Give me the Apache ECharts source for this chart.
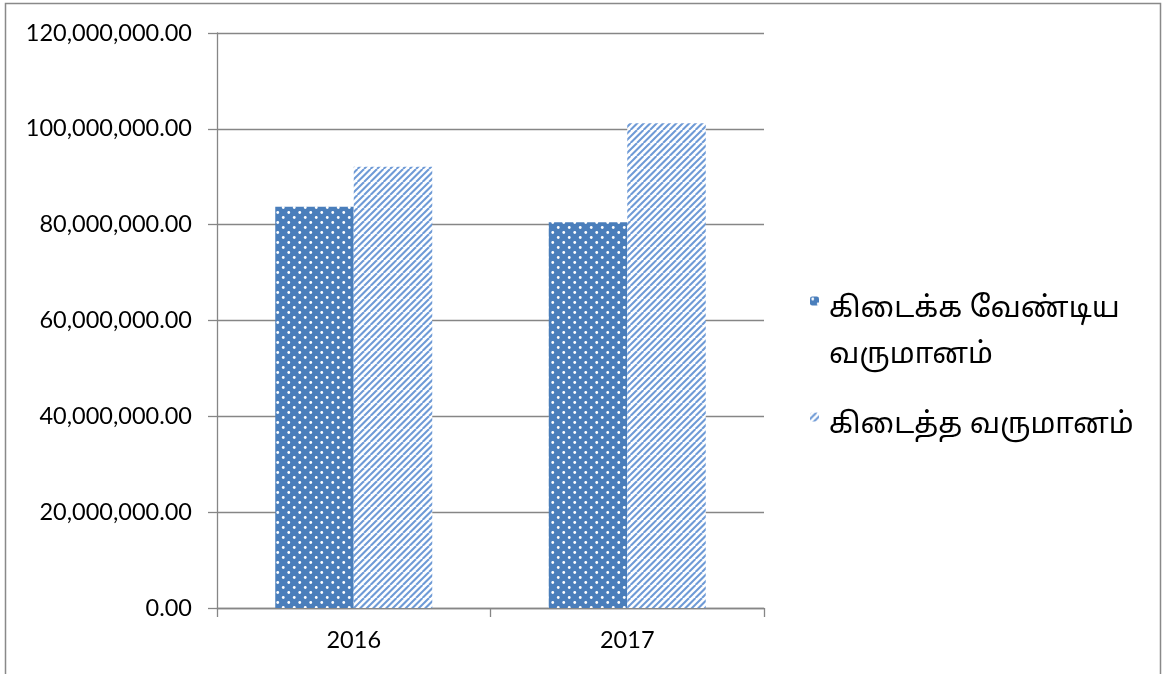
<!DOCTYPE html>
<html><head><meta charset="utf-8">
<script src="https://cdn.jsdelivr.net/npm/echarts@6/dist/echarts.min.js"></script>
<style>html,body{margin:0;padding:0;background:#fff}#c{width:1168px;height:674px}</style>
</head><body><div id="c"></div>
<script>
const categories = ['2016', '2017'];
const seriesNames = ['கிடைக்க வேண்டிய வருமானம்', 'கிடைத்த வருமானம்'];
const legendLines = [['கிடைக்க வேண்டிய', 'வருமானம்'], ['கிடைத்த வருமானம்']];
const expectedIncome = [83750000, 80500000];
const receivedIncome = [92100000, 101150000];
const yTicks = { min: 0, max: 120000000, interval: 20000000 };

function dotPattern() {
  const c = document.createElement('canvas');
  c.width = 11; c.height = 10;
  const g = c.getContext('2d');
  g.fillStyle = '#4a7ebb'; g.fillRect(0, 0, 11, 10);
  g.fillStyle = '#ffffff';
  [[2.75, 2.5], [8.25, 7.5]].forEach(p => { g.beginPath(); g.arc(p[0], p[1], 1.4, 0, Math.PI * 2); g.fill(); });
  return { image: c, repeat: 'repeat' };
}
function stripePattern() {
  const s = 13;
  const c = document.createElement('canvas');
  c.width = s; c.height = s;
  const g = c.getContext('2d');
  g.fillStyle = '#ffffff'; g.fillRect(0, 0, s, s);
  g.strokeStyle = '#6e9ad6'; g.lineWidth = 2;
  [-13, -6.5, 0, 6.5, 13].forEach(k => { g.beginPath(); g.moveTo(k, s); g.lineTo(k + s, 0); g.stroke(); });
  return { image: c, repeat: 'repeat' };
}
const pDots = dotPattern(), pStripes = stripePattern();

const chart = echarts.init(document.getElementById('c'), null, { renderer: 'canvas' });
const fmt = v => v.toLocaleString('en-US', { minimumFractionDigits: 2, maximumFractionDigits: 2 });
const tamilFont = "'Noto Sans Tamil','Lohit Tamil','Noto Sans',sans-serif";
const axisFont = 'Lato, "Liberation Sans", sans-serif';
const richLegend = (sp) => ({
  s: { lineHeight: sp, fontSize: 1, height: sp },
  b: { fontSize: 29, fontFamily: tamilFont, color: '#000', lineHeight: 46, padding: [0, 0, 0, 5] }
});
chart.setOption({
  animation: false,
  graphic: [{ type: 'rect', shape: { x: 5.5, y: 3.5, width: 1155, height: 680 }, style: { fill: 'none', stroke: '#898989', lineWidth: 1.5 }, silent: true }],
  grid: { left: 217, top: 33, right: 404, bottom: 66 },
  legend: [
    { data: [seriesNames[0]], left: 810, top: 222, padding: 0, orient: 'vertical', itemWidth: 9, itemHeight: 9,
      formatter: () => '{s| }\n' + legendLines[0].map(t => '{b|' + t + '}').join('\n'),
      textStyle: { rich: richLegend(66) } },
    { data: [seriesNames[1]], left: 810, top: 384, padding: 0, orient: 'vertical', itemWidth: 9, itemHeight: 9,
      formatter: () => '{s| }\n' + legendLines[1].map(t => '{b|' + t + '}').join('\n'),
      textStyle: { rich: richLegend(20) } }
  ],
  xAxis: {
    type: 'category', data: categories,
    axisLine: { lineStyle: { color: '#868686', width: 1.3 } },
    axisTick: { show: true, length: 9, lineStyle: { color: '#868686', width: 1.3 } },
    axisLabel: { fontSize: 23.5, fontFamily: axisFont, color: '#000', margin: 20 }
  },
  yAxis: {
    type: 'value', min: yTicks.min, max: yTicks.max, interval: yTicks.interval,
    axisLine: { show: true, lineStyle: { color: '#868686', width: 1.3 } },
    axisTick: { show: true, length: 9, lineStyle: { color: '#868686', width: 1.3 } },
    splitLine: { lineStyle: { color: '#868686', width: 1.3 } },
    axisLabel: { fontSize: 23.5, fontFamily: axisFont, color: '#000', margin: 25, formatter: fmt }
  },
  series: [
    { name: seriesNames[0], type: 'bar', data: expectedIncome, barGap: '0%', barCategoryGap: '42.6%', itemStyle: { color: pDots } },
    { name: seriesNames[1], type: 'bar', data: receivedIncome, barGap: '0%', barCategoryGap: '42.6%', itemStyle: { color: pStripes } }
  ]
});
</script></body></html>
